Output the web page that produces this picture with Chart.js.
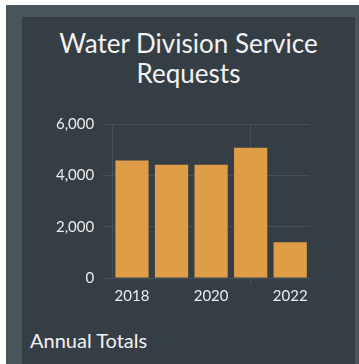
<!DOCTYPE html>
<html>
<head>
<meta charset="utf-8">
<script src="https://cdn.jsdelivr.net/npm/chart.js@4/dist/chart.umd.min.js"></script>
<style>
  html, body { margin: 0; padding: 0; background: #ffffff; }
  body { width: 359px; height: 364px; position: relative; overflow: hidden; font-family: Lato, "Noto Sans", sans-serif; }
  .frame { position: absolute; left: 6px; top: 5px; width: 353px; height: 359px; background: #4a545b; }
  .panel { position: absolute; left: 22px; top: 17px; width: 333px; height: 347px; background: #353e45; }
  .panel canvas { position: absolute; left: 0; top: 90px; }
  .title { position: absolute; left: 0; top: 11px; width: 333px; text-align: center; color: #f2f2f2; font-size: 26px; line-height: 30px; }
  .footer { position: absolute; left: 8px; top: 311px; color: #f2f2f2; font-size: 20px; }
</style>
</head>
<body>
<div class="frame"></div>
<div class="panel">
  <div class="title" id="title"></div>
  <canvas id="requests-chart" width="333" height="200"></canvas>
  <div class="footer">Annual Totals</div>
</div>
<script>
// Yearly totals of service requests
const years = ['2018', '2019', '2020', '2021', '2022'];
const requests = [4580, 4410, 4410, 5070, 1390];
const titleLines = ['Water Division Service', 'Requests'];

const gridColor = '#465058';
const textColor = '#ececec';

document.getElementById('title').innerHTML = titleLines.join('<br>');

new Chart(document.getElementById('requests-chart'), {
    type: 'bar',
    data: {
        labels: years,
        datasets: [{
            label: 'Requests',
            data: requests,
            backgroundColor: '#e09d48',
            barPercentage: 0.84,
            categoryPercentage: 1.0
        }]
    },
    options: {
        responsive: false,
        animation: false,
        layout: { padding: { left: 26, right: 45, top: 8, bottom: 0 } },
        plugins: {
            legend: { display: false },
            tooltip: { enabled: false }
        },
        scales: {
            x: {
                grid: { color: gridColor, tickLength: 7 },
                border: { color: gridColor },
                ticks: {
                    color: textColor,
                    font: { family: 'Lato', size: 15 },
                    autoSkip: true,
                    maxTicksLimit: 3,
                    maxRotation: 0,
                    padding: 2
                }
            },
            y: {
                min: 0,
                max: 6000,
                grid: { color: gridColor, tickLength: 10 },
                border: { color: gridColor },
                ticks: {
                    stepSize: 2000,
                    color: textColor,
                    font: { family: 'Lato', size: 15 },
                    padding: 8,
                    callback: v => v.toLocaleString('en-US')
                }
            }
        }
    }
});
</script>
</body>
</html>
